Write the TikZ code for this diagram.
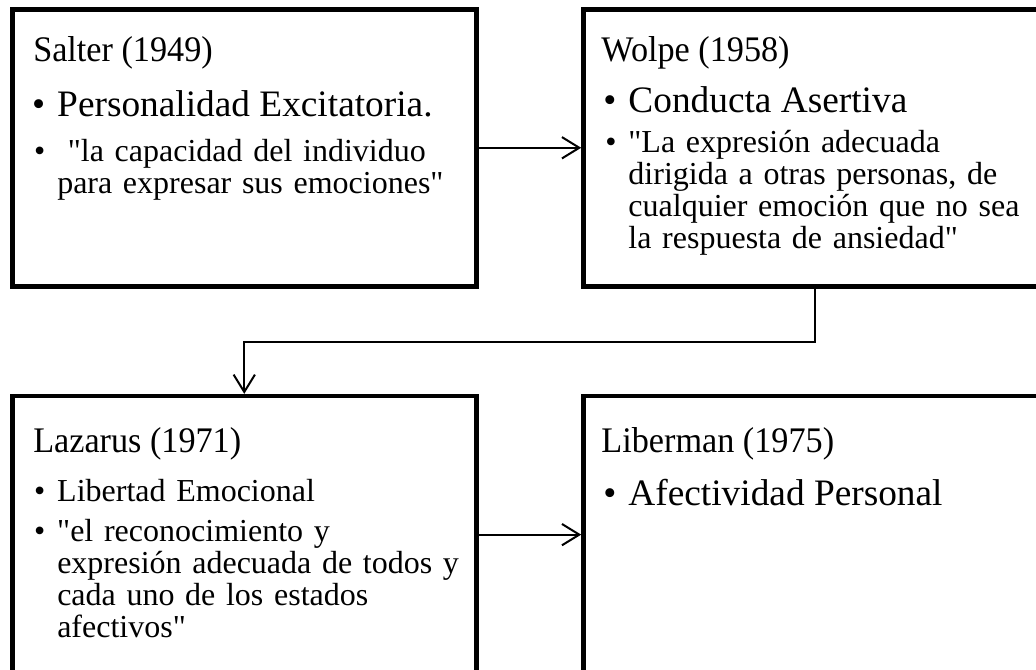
\documentclass[tikz,border=0pt]{standalone}
\usepackage{fontspec}
\setmainfont{Liberation Serif}
\newfontfamily\headfont[FakeStretch=0.95]{Liberation Serif}
\usetikzlibrary{positioning,arrows.meta}

\tikzset{
  box/.style={draw, line width=3.4pt, minimum width=348pt, minimum height=207.75pt, inner sep=0pt},
  link/.style={line width=1.5pt, -{Straight Barb[length=13pt,width=16pt,line width=1.5pt]}},
  head/.style={anchor=base west, inner sep=0pt, font=\headfont\fontsize{27}{30}\selectfont},
  big/.style={anchor=base west, inner sep=0pt, font=\fontsize{28}{30}\selectfont},
  quote/.style={anchor=base west, inner sep=0pt, text width=320pt, align=left, font=\fontsize{24}{24}\selectfont},
}
\newcommand{\bul}{\llap{\textbullet\hspace{9pt}}}
\newcommand{\qq}{\textquotedbl}

\begin{document}
\begin{tikzpicture}[x=0.75pt, y=-0.75pt]
\path[use as bounding box, clip] (0,0) rectangle (1036,670);

% the four boxes
\node[box, anchor=north west] (salter) at (10,7) {};
\node[box, right=77pt of salter] (wolpe) {};
\node[box, below=79pt of salter] (lazarus) {};
\node[box, right=77pt of lazarus] (liberman) {};

% Salter
\node[head] (salterT) at ([shift={(23,55)}]salter.north west) {Salter (1949)};
\node[big] (salterA) at ([shift={(47,110)}]salter.north west) {\bul Personalidad Excitatoria.};
\node[quote] (salterB) at ([shift={(47,155)}]salter.north west)
  {\bul\ \qq la capacidad del individuo\\para expresar sus emociones\qq};

% Wolpe
\node[head] (wolpeT) at ([shift={(20,55)}]wolpe.north west) {Wolpe (1958)};
\node[big] (wolpeA) at ([shift={(47,106)}]wolpe.north west) {\bul Conducta Asertiva};
\node[quote] (wolpeB) at ([shift={(47,146)}]wolpe.north west)
  {\bul \qq La expresión adecuada\\dirigida a otras personas, de\\cualquier emoción que no sea\\la respuesta de ansiedad\qq};

% Lazarus
\node[head] (lazarusT) at ([shift={(23,59)}]lazarus.north west) {Lazarus (1971)};
\node[quote] (lazarusA) at ([shift={(47,108)}]lazarus.north west) {\bul Libertad Emocional};
\node[quote] (lazarusB) at ([shift={(47,148)}]lazarus.north west)
  {\bul \qq el reconocimiento y\\expresión adecuada de todos y\\cada uno de los estados\\afectivos\qq};

% Liberman
\node[head] (libermanT) at ([shift={(20,59)}]liberman.north west) {Liberman (1975)};
\node[big] (libermanA) at ([shift={(47,112)}]liberman.north west) {\bul Afectividad Personal};

% connectors
\draw[link] (salter) -- (wolpe);
\draw[link] (wolpe.south) |- ++(0,53) -| (lazarus.north);
\draw[link] (lazarus) -- (liberman);
\end{tikzpicture}
\end{document}
